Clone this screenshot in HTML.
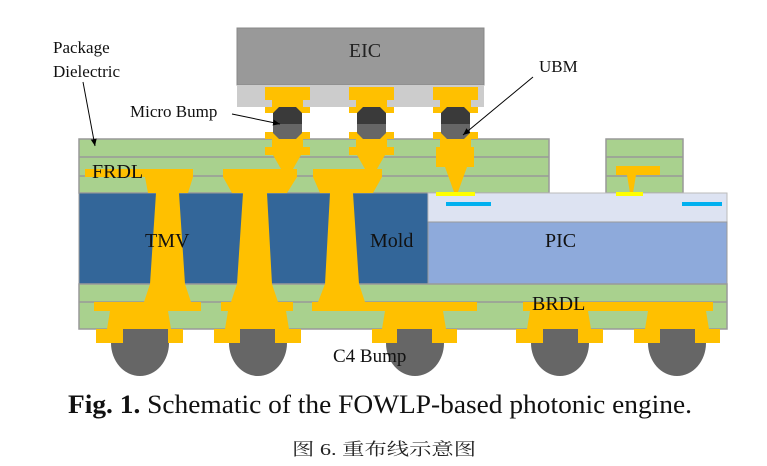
<!DOCTYPE html>
<html><head><meta charset="utf-8"><style>html,body{margin:0;padding:0;background:#fff}svg{display:block}</style></head>
<body>
<svg width="767" height="466" viewBox="0 0 767 466" xmlns="http://www.w3.org/2000/svg" font-family="'Liberation Serif','Noto Serif CJK SC',serif">
<defs><marker id="ah" markerWidth="8" markerHeight="8" refX="7" refY="4" orient="auto"><path d="M0,1 L7,4 L0,7 z" fill="#000"/></marker></defs>
<!-- EIC -->
<rect x="237" y="28" width="247" height="57" fill="#999" stroke="#888"/>
<rect x="237" y="85" width="247" height="22" fill="#ccc"/>
<text x="365" y="57" font-size="20" text-anchor="middle" fill="#222">EIC</text>
<!-- FRDL -->
<g stroke="#999" stroke-width="1.5">
<rect x="79" y="139" width="470" height="54" fill="#a9d18e"/>
<rect x="606" y="139" width="77" height="54" fill="#a9d18e"/>
<line x1="79" y1="157" x2="549" y2="157"/><line x1="79" y1="176" x2="549" y2="176"/>
<line x1="606" y1="157" x2="683" y2="157"/><line x1="606" y1="176" x2="683" y2="176"/>
</g>
<!-- Mold & PIC -->
<rect x="79" y="193" width="349" height="91" fill="#336699" stroke="#999"/>
<rect x="428" y="193" width="299" height="29" fill="#dde3f2" stroke="#bbb"/>
<rect x="428" y="222" width="299" height="62" fill="#8eaadb" stroke="#999"/>
<!-- BRDL -->
<g stroke="#999" stroke-width="1.5">
<rect x="79" y="284" width="648" height="45" fill="#a9d18e"/>
<line x1="79" y1="302" x2="727" y2="302"/>
</g>
<g fill="#ffc000">
<!-- TMV caps and vias -->
<path d="M145,169 H193 V177 L188,193 L179,193 L185,284 L191,302 L144,302 L150,284 L156,193 L148,193 L145,177 Z"/>
<path d="M223,169 H297 V177 L287,193 L267,193 L272,284 L278,302 L231,302 L237,284 L243,193 L232,193 L223,177 Z"/>
<path d="M313,169 H382 V177 L373,193 L353,193 L359,284 L365,302 L318,302 L325,284 L330,193 L320,193 L313,177 Z"/>
<rect x="85" y="169" width="60" height="8"/>
<!-- BRDL bars and pads -->
<rect x="94" y="302" width="107" height="9"/><path d="M110,311 H168 L171,329 H107 Z"/><rect x="96" y="329" width="87" height="14"/>
<rect x="221" y="302" width="72" height="9"/><path d="M228,311 H286 L289,329 H225 Z"/><rect x="214" y="329" width="87" height="14"/>
<rect x="312" y="302" width="165" height="9"/><path d="M385,311 H443 L446,329 H382 Z"/><rect x="372" y="329" width="85" height="14"/>
<rect x="523" y="302" width="190" height="9"/><path d="M530,311 H588 L591,329 H527 Z"/><rect x="516" y="329" width="87" height="14"/>
<path d="M648,311 H706 L709,329 H645 Z"/><rect x="634" y="329" width="86" height="14"/>
<!-- micro bump columns -->
<g>
<rect x="265" y="87" width="45" height="13"/><rect x="272" y="100" width="31" height="8"/><rect x="265" y="107" width="45" height="6"/>
<rect x="265" y="132" width="45" height="7"/><rect x="272" y="139" width="31" height="9"/><rect x="265" y="147" width="45" height="8"/><path d="M273,155 H301 L293,169 H281 Z"/>
</g>
<g>
<rect x="349" y="87" width="45" height="13"/><rect x="356" y="100" width="31" height="8"/><rect x="349" y="107" width="45" height="6"/>
<rect x="349" y="132" width="45" height="7"/><rect x="356" y="139" width="31" height="9"/><rect x="349" y="147" width="45" height="8"/><path d="M357,155 H385 L377,169 H365 Z"/>
</g>
<g>
<rect x="433" y="87" width="45" height="13"/><rect x="440" y="100" width="31" height="8"/><rect x="433" y="107" width="45" height="6"/>
<rect x="433" y="132" width="45" height="7"/><rect x="440" y="139" width="31" height="9"/><rect x="436" y="147" width="38" height="20"/><path d="M445,167 H467 L458,192 H454 Z"/>
</g>
<rect x="616" y="166" width="44" height="9"/><path d="M627,175 H636 L633,193 H630 Z"/>
</g>
<!-- micro bumps -->
<g>
<path d="M273,113 L279,107 H296 L302,113 V124 H273 Z" fill="#3a3a3a"/><path d="M273,124 H302 V133 L296,139 H279 L273,133 Z" fill="#666"/>
<path d="M357,113 L363,107 H380 L386,113 V124 H357 Z" fill="#3a3a3a"/><path d="M357,124 H386 V133 L380,139 H363 L357,133 Z" fill="#666"/>
<path d="M441,113 L447,107 H464 L470,113 V124 H441 Z" fill="#3a3a3a"/><path d="M441,124 H470 V133 L464,139 H447 L441,133 Z" fill="#666"/>
</g>
<!-- UBM pads / waveguides -->
<rect x="436" y="192" width="39" height="4" fill="#ffff00"/>
<rect x="616" y="192" width="27" height="4" fill="#ffff00"/>
<rect x="446" y="202" width="45" height="4" fill="#00b0f0"/>
<rect x="682" y="202" width="40" height="4" fill="#00b0f0"/>
<!-- C4 bumps -->
<g fill="#666">
<path d="M111,343 H169 A29,30 0 0 1 169,343 A29,33 0 1 1 111,343 Z"/>
<path d="M229,343 H287 A29,33 0 1 1 229,343 Z"/>
<path d="M386,343 H444 A29,33 0 1 1 386,343 Z"/>
<path d="M531,343 H589 A29,33 0 1 1 531,343 Z"/>
<path d="M648,343 H706 A29,33 0 1 1 648,343 Z"/>
</g>
<rect x="123" y="329" width="45" height="14" fill="#666"/><rect x="240" y="329" width="35" height="14" fill="#666"/><rect x="397" y="329" width="35" height="14" fill="#666"/><rect x="543" y="329" width="35" height="14" fill="#666"/><rect x="660" y="329" width="35" height="14" fill="#666"/>
<!-- labels -->
<g fill="#111" font-size="19">
<text x="53" y="53" font-size="17">Package</text>
<text x="53" y="77" font-size="17">Dielectric</text>
<text x="130" y="117" font-size="17">Micro Bump</text>
<text x="539" y="72" font-size="17">UBM</text>
<text x="92" y="178" font-size="20">FRDL</text>
<text x="145" y="247" font-size="20">TMV</text>
<text x="370" y="247" font-size="20">Mold</text>
<text x="545" y="247" font-size="20">PIC</text>
<text x="532" y="310" font-size="20">BRDL</text>
<text x="333" y="362" font-size="19">C4 Bump</text>
</g>
<g stroke="#000" stroke-width="1">
<line x1="83" y1="82" x2="95" y2="146" marker-end="url(#ah)"/>
<line x1="232" y1="114" x2="280" y2="124" marker-end="url(#ah)"/>
<line x1="533" y1="77" x2="463" y2="135" marker-end="url(#ah)"/>
</g>
<text x="68" y="413" font-size="26" textLength="624" lengthAdjust="spacingAndGlyphs" fill="#111"><tspan font-weight="bold">Fig. 1.</tspan> Schematic of the FOWLP-based photonic engine.</text>
<text x="292" y="455" font-size="17" textLength="184" lengthAdjust="spacingAndGlyphs" fill="#222">图 6. 重布线示意图</text>
</svg>
</body></html>
